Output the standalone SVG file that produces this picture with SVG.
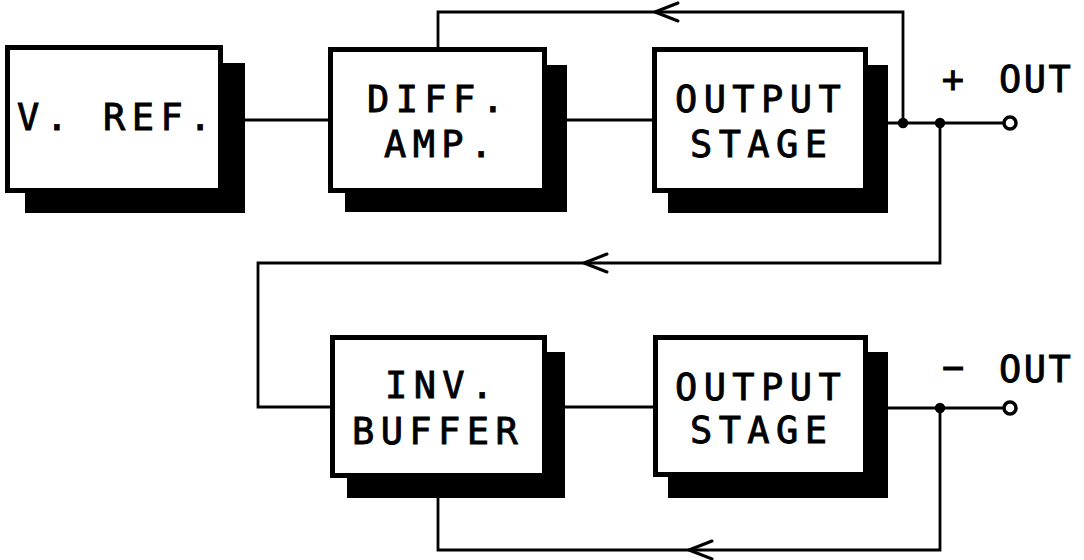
<svg xmlns="http://www.w3.org/2000/svg" width="1084" height="560" viewBox="0 0 1084 560">
<style>
.box{fill:#fff;stroke:#000;stroke-width:5}
.shadow{fill:#000}
.wire{fill:none;stroke:#000;stroke-width:2.8;stroke-linejoin:miter}
.arrow{fill:none;stroke:#000;stroke-width:3;stroke-linecap:round;stroke-linejoin:round}
.dot{fill:#000}
.term{fill:#fff;stroke:#000;stroke-width:3.5}
text{font-family:"DejaVu Sans Mono","Liberation Mono",monospace;font-size:37px;fill:#000;stroke:#000;stroke-width:0.9;letter-spacing:6.4px}
.lbl{letter-spacing:2.5px}
</style>
<rect width="1084" height="560" fill="#fff"/>
<g id="connectors">
<path class="wire" d="M245 120 H328"/>
<path class="wire" d="M567 120 H652"/>
<path class="wire" d="M438 47 V12 H903 V123"/>
<path class="wire" d="M888 123 H1004"/>
<path class="wire" d="M940 123 V263 H258 V407 H330"/>
<path class="wire" d="M565 407 H653"/>
<path class="wire" d="M888 408 H1004"/>
<path class="wire" d="M940 408 V550 H438 V498"/>
<path class="arrow" d="M678 3 L655 12 L678 21"/>
<path class="arrow" d="M607 254 L584 263 L607 272"/>
<path class="arrow" d="M712 541 L689 550 L712 559"/>
<circle class="dot" cx="903" cy="123" r="5.2"/>
<circle class="dot" cx="940" cy="123" r="5.2"/>
<circle class="dot" cx="940" cy="408" r="5.2"/>
</g>
<g id="vref">
<rect class="shadow" x="25" y="63" width="220" height="150"/>
<rect class="box" x="7.5" y="47.5" width="213" height="143"/>
<text x="17" y="130">V. REF.</text>
</g>
<g id="diffamp">
<rect class="shadow" x="345" y="65" width="222" height="147"/>
<rect class="box" x="330.5" y="49.5" width="214" height="141"/>
<text x="367" y="112">DIFF.</text>
<text x="384" y="157">AMP.</text>
</g>
<g id="outstage1">
<rect class="shadow" x="668" y="65" width="220" height="148"/>
<rect class="box" x="654.5" y="49.5" width="211" height="141"/>
<text x="675" y="112">OUTPUT</text>
<text x="690" y="157">STAGE</text>
</g>
<g id="invbuffer">
<rect class="shadow" x="347" y="352" width="218" height="146"/>
<rect class="box" x="332.5" y="337.5" width="212" height="138"/>
<text x="385" y="398">INV.</text>
<text x="352" y="444">BUFFER</text>
</g>
<g id="outstage2">
<rect class="shadow" x="668" y="352" width="220" height="146"/>
<rect class="box" x="655.5" y="337.5" width="210" height="137"/>
<text x="675" y="400">OUTPUT</text>
<text x="690" y="443">STAGE</text>
</g>
<g id="plusout">
<circle class="term" cx="1010" cy="123" r="6"/>
<text x="953" y="92" text-anchor="middle" style="letter-spacing:0">+</text>
<text class="lbl" x="999" y="92">OUT</text>
</g>
<g id="minusout">
<circle class="term" cx="1010" cy="408" r="6"/>
<text x="953" y="380" text-anchor="middle" style="letter-spacing:0">−</text>
<text class="lbl" x="999" y="382">OUT</text>
</g>
</svg>
